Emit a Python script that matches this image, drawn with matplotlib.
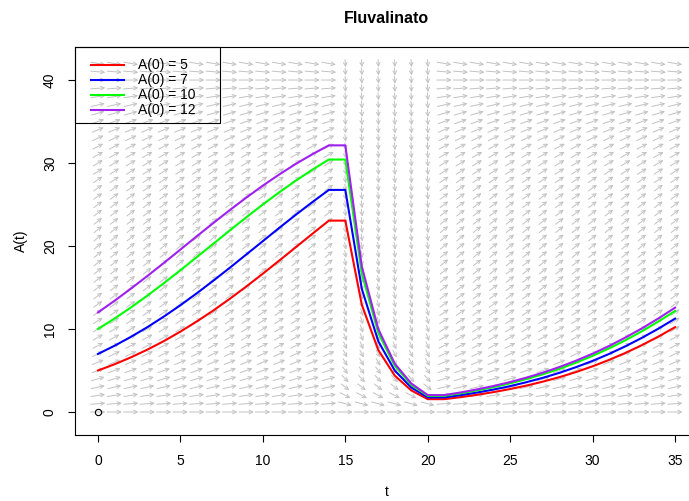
import numpy as np
import matplotlib
matplotlib.use("Agg")
import matplotlib.pyplot as plt
from matplotlib.patches import Rectangle

plt.rcParams['font.family'] = ['Liberation Sans', 'DejaVu Sans']

# solution curves, one value per unit of t
times = list(range(36))
a5 = [5.00, 5.75, 6.59, 7.52, 8.55, 9.69, 10.92, 12.24, 13.65, 15.13, 16.67, 18.26, 19.86, 21.47, 23.06,
      23.06, 12.92, 7.46, 4.38, 2.60, 1.55,
      1.55, 1.79, 2.08, 2.40, 2.77, 3.19, 3.67, 4.21, 4.82, 5.51, 6.28, 7.13, 8.07, 9.10, 10.22]
a7 = [7.00, 7.98, 9.06, 10.23, 11.51, 12.87, 14.32, 15.83, 17.39, 18.99, 20.59, 22.20, 23.77, 25.29, 26.76,
      26.76, 14.83, 8.52, 4.99, 2.95, 1.76,
      1.76, 2.03, 2.35, 2.71, 3.12, 3.60, 4.13, 4.73, 5.41, 6.16, 7.00, 7.93, 8.95, 10.06, 11.25]
a10 = [10.00, 11.26, 12.60, 14.03, 15.53, 17.09, 18.68, 20.28, 21.89, 23.47, 25.01, 26.48, 27.88, 29.20, 30.42,
       30.42, 16.69, 9.53, 5.56, 3.28, 1.95,
       1.95, 2.26, 2.61, 3.01, 3.46, 3.98, 4.56, 5.21, 5.95, 6.77, 7.67, 8.66, 9.74, 10.92, 12.17]
a12 = [12.00, 13.40, 14.87, 16.40, 17.97, 19.58, 21.19, 22.78, 24.34, 25.84, 27.28, 28.63, 29.90, 31.06, 32.13,
       32.13, 17.54, 9.99, 5.82, 3.44, 2.04,
       2.04, 2.36, 2.73, 3.14, 3.61, 4.15, 4.75, 5.43, 6.19, 7.03, 7.96, 8.99, 10.09, 11.29, 12.57]

series = [a5, a7, a10, a12]
labels = ['A(0) = 5', 'A(0) = 7', 'A(0) = 10', 'A(0) = 12']
colors = ['#FF0000', '#0000FF', '#00FF00', '#A020F0']

# direction field: logistic growth, extra mortality while exposed
r_growth = 0.16
capacity = 40
d_exposure = 0.67
exposure = (15, 20)
field_t = list(range(0, 36))
field_a = list(range(0, 43))


def rate(t, a):
    da = r_growth * a * (1 - a / capacity)
    if exposure[0] <= t <= exposure[1]:
        da -= d_exposure * a
    return da


fig = plt.figure(figsize=(6.89, 5.01), dpi=100)
ax = fig.add_axes([75 / 689, 66 / 501, 623 / 689, 388 / 501])

frac = 0.9
for t in field_t:
    for a in field_a:
        s = rate(t, a)
        L = np.hypot(1.0, s)
        dx = frac / L
        dy = frac * s / L
        ax.annotate('', xy=(t + dx / 2, a + dy / 2), xytext=(t - dx / 2, a - dy / 2),
                    arrowprops=dict(arrowstyle='->', color='#c2c2c2', lw=0.7,
                                    shrinkA=0, shrinkB=0, mutation_scale=6.5),
                    zorder=1)

for vals, lab, col in zip(series, labels, colors):
    ax.plot(times, vals, color=col, lw=1.5, label=lab, zorder=3)

ax.plot([0], [0], 'o', mfc='none', mec='black', ms=4.5, mew=0.8, zorder=4)

ax.set_xlim(-1.395, 36.39)
ax.set_ylim(-2.77, 43.98)
ax.set_xticks(range(0, 36, 5))
ax.set_yticks(range(0, 41, 10))
ax.tick_params(direction='out', length=5, width=0.8, labelsize=10)
ax.tick_params(axis='x', pad=9)
ax.tick_params(axis='y', pad=8)
for lbl in ax.get_yticklabels():
    lbl.set_rotation(90)
    lbl.set_va('center')
for sp in ax.spines.values():
    sp.set_linewidth(0.8)
    sp.set_color('black')

ax.set_xlabel('t', fontsize=10, labelpad=12)
ax.set_ylabel('A(t)', fontsize=10, labelpad=11)
ax.set_title('Fluvalinato', fontsize=11.5, fontweight='bold', pad=17)

# legend frame as in the original (transparent, wide right margin)
ax.add_patch(Rectangle((0, 1 - 76 / 388), 145 / 623, 76 / 388, transform=ax.transAxes,
                       fill=False, edgecolor='black', lw=0.8, zorder=5, clip_on=False))
leg = ax.legend(loc='upper left', bbox_to_anchor=(16 / 623, 1 - 11.5 / 388), borderaxespad=0,
                borderpad=0, fontsize=10, frameon=False,
                handlelength=2.38, handletextpad=1.0, labelspacing=0.07)

fig.savefig('out.png', dpi=100)
